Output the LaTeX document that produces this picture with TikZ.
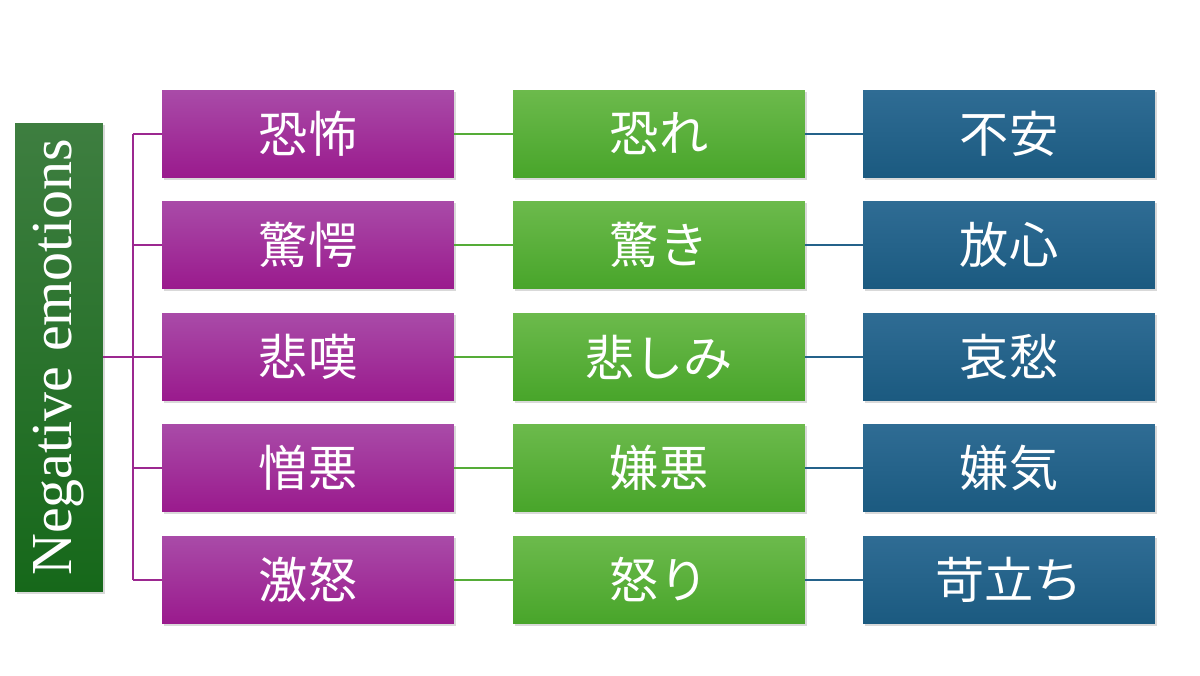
\documentclass[tikz,border=0pt]{standalone}
\usepackage{fontspec}
\setmainfont{Liberation Serif}
\newfontfamily\cjk{Noto Sans CJK JP}
\usetikzlibrary{shadows}
\definecolor{pT}{HTML}{A94BA8}\definecolor{pB}{HTML}{9A1A8D}
\definecolor{gT}{HTML}{6CBA4C}\definecolor{gB}{HTML}{48A52A}
\definecolor{bT}{HTML}{2F6C94}\definecolor{bB}{HTML}{1B5A80}
\definecolor{lT}{HTML}{3E7E40}\definecolor{lB}{HTML}{16681A}
\definecolor{pl}{HTML}{9C2890}\definecolor{gl}{HTML}{55AC38}\definecolor{bl}{HTML}{24628A}
\begin{document}
\begin{tikzpicture}[x=0.02cm,y=-0.02cm,
 box/.style={minimum width=5.84cm,minimum height=1.76cm,inner sep=0,font=\cjk\fontsize{28}{30}\selectfont,text=white,drop shadow={shadow xshift=0.04cm,shadow yshift=-0.04cm,opacity=0.3}},
 pbox/.style={box,top color=pT,bottom color=pB},
 gbox/.style={box,top color=gT,bottom color=gB},
 bbox/.style={box,top color=bT,bottom color=bB}]
\useasboundingbox (0,0) rectangle (1200,676);
\node[minimum width=1.76cm,minimum height=9.38cm,inner sep=0,top color=lT,bottom color=lB,drop shadow={shadow xshift=0.04cm,shadow yshift=-0.04cm,opacity=0.3}] (L) at (59,357.5) {};
\node[rotate=90,text=white,font=\fontsize{33}{35}\selectfont] at (L.center) {Negative emotions};
\coordinate (T) at (133,357);
\foreach \i/\y/\a/\b/\c in {1/134/恐怖/恐れ/不安,2/245/驚愕/驚き/放心,3/357/悲嘆/悲しみ/哀愁,4/468/憎悪/嫌悪/嫌気,5/580/激怒/怒り/苛立ち}{
 \node[pbox] (p\i) at (308,\y) {\a};
 \node[gbox] (g\i) at (659,\y) {\b};
 \node[bbox] (b\i) at (1009,\y) {\c};
 \draw[gl,line width=0.9pt] (p\i.east) -- (g\i.west);
 \draw[bl,line width=0.9pt] (g\i.east) -- (b\i.west);
 \draw[pl,line width=0.9pt] (T |- p\i.west) -- (p\i.west);
}
\draw[pl,line width=0.9pt] (T |- p1.west) -- (T |- p5.west);
\draw[pl,line width=0.9pt] (L.east |- T) -- (T);
\end{tikzpicture}
\end{document}
